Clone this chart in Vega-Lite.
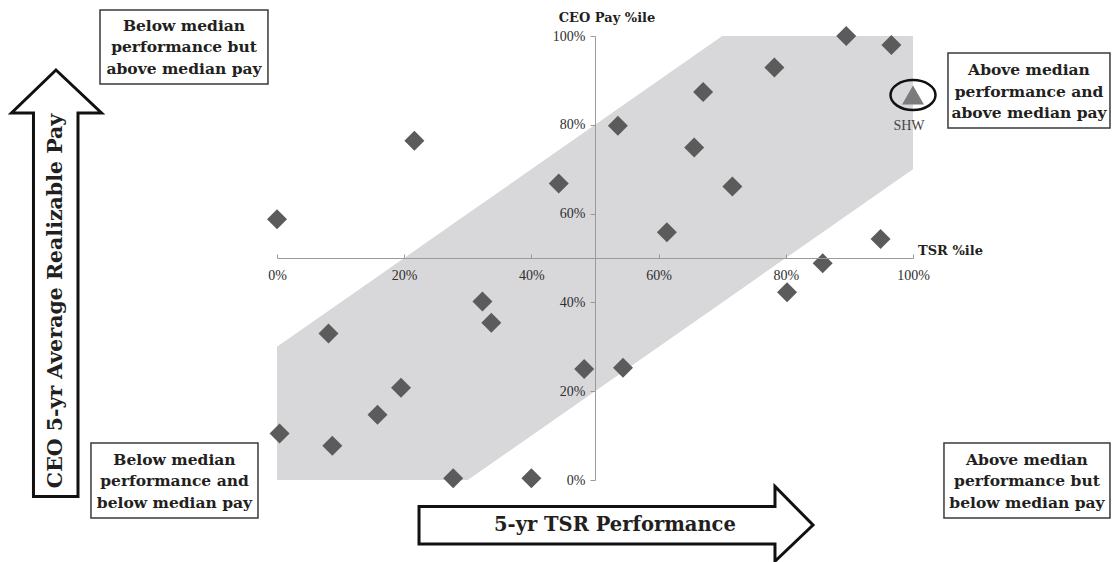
{
  "$schema": "https://vega.github.io/schema/vega-lite/v6.json",
  "width": 636,
  "height": 444,
  "autosize": "none",
  "padding": {"left": 277, "top": 36, "right": 199, "bottom": 82},
  "background": "white",
  "config": {"view": {"stroke": null}},
  "datasets": {
    "peers": [
      {"x": 0, "y": 58.7}, {"x": 21.6, "y": 76.4}, {"x": 8.1, "y": 33.0}, {"x": 0.4, "y": 10.5},
      {"x": 8.7, "y": 7.7}, {"x": 15.8, "y": 14.7}, {"x": 19.5, "y": 20.8}, {"x": 27.7, "y": 0.4},
      {"x": 32.3, "y": 40.2}, {"x": 33.7, "y": 35.4}, {"x": 40.0, "y": 0.4}, {"x": 44.3, "y": 66.8},
      {"x": 48.3, "y": 25.0}, {"x": 53.6, "y": 79.8}, {"x": 54.4, "y": 25.3}, {"x": 61.3, "y": 55.8},
      {"x": 65.6, "y": 74.9}, {"x": 67.0, "y": 87.4}, {"x": 71.6, "y": 66.1}, {"x": 78.2, "y": 92.9},
      {"x": 80.2, "y": 42.3}, {"x": 85.8, "y": 48.8}, {"x": 89.5, "y": 100}, {"x": 94.9, "y": 54.3},
      {"x": 96.6, "y": 98.0}
    ],
    "shw": [{"x": 100, "y": 86.7, "name": "SHW"}],
    "band": [
      {"x": 0, "y": 0, "y2": 30}, {"x": 30, "y": 0, "y2": 60},
      {"x": 70, "y": 40, "y2": 100}, {"x": 100, "y": 70, "y2": 100}
    ],
    "boxes": [
      {"x": -27.83, "x2": -1.42, "y": 105.86, "y2": 89.19, "cx": -14.62, "cy": 97.52, "text": "Below median\nperformance but\nabove median pay"},
      {"x": 105.5, "x2": 130.97, "y": 96.17, "y2": 79.28, "cx": 118.24, "cy": 87.5, "text": "Above median\nperformance and\nabove median pay"},
      {"x": -29.25, "x2": -2.99, "y": 8.33, "y2": -8.56, "cx": -16.12, "cy": -0.23, "text": "Below median\nperformance and\nbelow median pay"},
      {"x": 104.87, "x2": 130.97, "y": 8.33, "y2": -8.56, "cx": 117.92, "cy": -0.23, "text": "Above median\nperformance but\nbelow median pay"}
    ],
    "arrows": [
      {"arrow": "up", "o": 1, "x": -34.75, "y": 92.34},
      {"arrow": "up", "o": 2, "x": -27.59, "y": 82.66},
      {"arrow": "up", "o": 3, "x": -31.29, "y": 82.66},
      {"arrow": "up", "o": 4, "x": -31.29, "y": -3.72},
      {"arrow": "up", "o": 5, "x": -38.29, "y": -3.72},
      {"arrow": "up", "o": 6, "x": -38.29, "y": 82.66},
      {"arrow": "up", "o": 7, "x": -41.75, "y": 82.66},
      {"arrow": "right", "o": 1, "x": 22.33, "y": -5.97},
      {"arrow": "right", "o": 2, "x": 78.3, "y": -5.97},
      {"arrow": "right", "o": 3, "x": 78.3, "y": -1.46},
      {"arrow": "right", "o": 4, "x": 84.28, "y": -10.14},
      {"arrow": "right", "o": 5, "x": 78.3, "y": -18.3},
      {"arrow": "right", "o": 6, "x": 78.3, "y": -14.41},
      {"arrow": "right", "o": 7, "x": 22.33, "y": -14.41}
    ],
    "arrowText": [
      {"arrow": "up", "x": -34.75, "y": 40.32, "text": "CEO 5-yr Average Realizable Pay"},
      {"arrow": "right", "x": 53.14, "y": -10.14, "text": "5-yr TSR Performance"}
    ],
    "axisTitles": [
      {"x": 51.89, "y": 104.05, "text": "CEO Pay %ile", "align": "center"},
      {"x": 100.79, "y": 51.58, "text": "TSR %ile", "align": "left"}
    ]
  },
  "encoding": {
    "x": {
      "field": "x", "type": "quantitative",
      "scale": {"domain": [0, 100], "nice": false, "zero": false},
      "axis": {
        "values": [0, 20, 40, 60, 80, 100], "labelExpr": "datum.value + '%'",
        "offset": -222, "tickSize": -4, "labelPadding": 14, "labelFlush": false,
        "domainColor": "#9a9a9a", "tickColor": "#9a9a9a", "grid": false, "title": null,
        "labelFont": "Liberation Serif", "labelFontSize": 14, "labelColor": "#2e2e2e", "zindex": 1
      }
    },
    "y": {
      "field": "y", "type": "quantitative",
      "scale": {"domain": [0, 100], "nice": false, "zero": false},
      "axis": {
        "values": [0, 20, 40, 60, 80, 100], "labelExpr": "datum.value + '%'",
        "offset": -318, "tickSize": 5, "labelPadding": 5, "labelFlush": false,
        "domainColor": "#9a9a9a", "tickColor": "#9a9a9a", "grid": false, "title": null,
        "labelFont": "Liberation Serif", "labelFontSize": 14, "labelColor": "#2e2e2e", "zindex": 1
      }
    }
  },
  "layer": [
    {
      "data": {"name": "band"},
      "mark": {"type": "area", "color": "#d8d8da", "opacity": 1},
      "encoding": {"y2": {"field": "y2"}}
    },
    {
      "data": {"name": "peers"},
      "mark": {"type": "point", "shape": "diamond", "filled": true, "size": 400, "color": "#5b5b5b", "opacity": 1}
    },
    {
      "data": {"name": "shw"},
      "mark": {"type": "point", "shape": "triangle-up", "filled": true, "size": 480, "color": "#7b7b7b", "opacity": 1}
    },
    {
      "data": {"name": "shw"},
      "mark": {"type": "point", "shape": "M -1 0 A 1 0.667 0 1 1 1 0 A 1 0.667 0 1 1 -1 0 Z", "filled": false, "size": 2025, "color": "#111111", "strokeWidth": 2.5, "opacity": 1}
    },
    {
      "data": {"name": "shw"},
      "mark": {"type": "text", "dx": -4, "dy": 31, "font": "Liberation Serif", "fontSize": 14, "color": "#444444"},
      "encoding": {"text": {"field": "name"}}
    },
    {
      "data": {"name": "boxes"},
      "mark": {"type": "rect", "fill": "white", "stroke": "#3a3a3a", "strokeWidth": 1.5},
      "encoding": {"x2": {"field": "x2"}, "y2": {"field": "y2"}}
    },
    {
      "data": {"name": "boxes"},
      "mark": {"type": "text", "lineBreak": "\n", "lineHeight": 21.5, "dy": -21.5, "font": "DejaVu Serif", "fontWeight": "bold", "fontSize": 15.5, "color": "#231f20", "align": "center", "baseline": "middle"},
      "encoding": {"x": {"field": "cx"}, "y": {"field": "cy"}, "text": {"field": "text"}}
    },
    {
      "data": {"name": "arrows"},
      "mark": {"type": "line", "interpolate": "linear-closed", "fill": "white", "stroke": "#111111", "strokeWidth": 3, "strokeJoin": "miter"},
      "encoding": {"detail": {"field": "arrow"}, "order": {"field": "o", "type": "quantitative"}}
    },
    {
      "data": {"name": "arrowText"},
      "transform": [{"filter": "datum.arrow == 'up'"}],
      "mark": {"type": "text", "angle": 270, "font": "DejaVu Serif", "fontWeight": "bold", "fontSize": 20.5, "color": "#231f20", "align": "center", "baseline": "middle"},
      "encoding": {"text": {"field": "text"}}
    },
    {
      "data": {"name": "arrowText"},
      "transform": [{"filter": "datum.arrow == 'right'"}],
      "mark": {"type": "text", "font": "DejaVu Serif", "fontWeight": "bold", "fontSize": 19.5, "color": "#231f20", "align": "center", "baseline": "middle"},
      "encoding": {"text": {"field": "text"}}
    },
    {
      "data": {"name": "axisTitles"},
      "transform": [{"filter": "datum.align == 'center'"}],
      "mark": {"type": "text", "font": "DejaVu Serif", "fontWeight": "bold", "fontSize": 13, "color": "#231f20", "align": "center", "baseline": "middle"},
      "encoding": {"text": {"field": "text"}}
    },
    {
      "data": {"name": "axisTitles"},
      "transform": [{"filter": "datum.align == 'left'"}],
      "mark": {"type": "text", "font": "DejaVu Serif", "fontWeight": "bold", "fontSize": 13, "color": "#231f20", "align": "left", "baseline": "middle"},
      "encoding": {"text": {"field": "text"}}
    }
  ]
}
